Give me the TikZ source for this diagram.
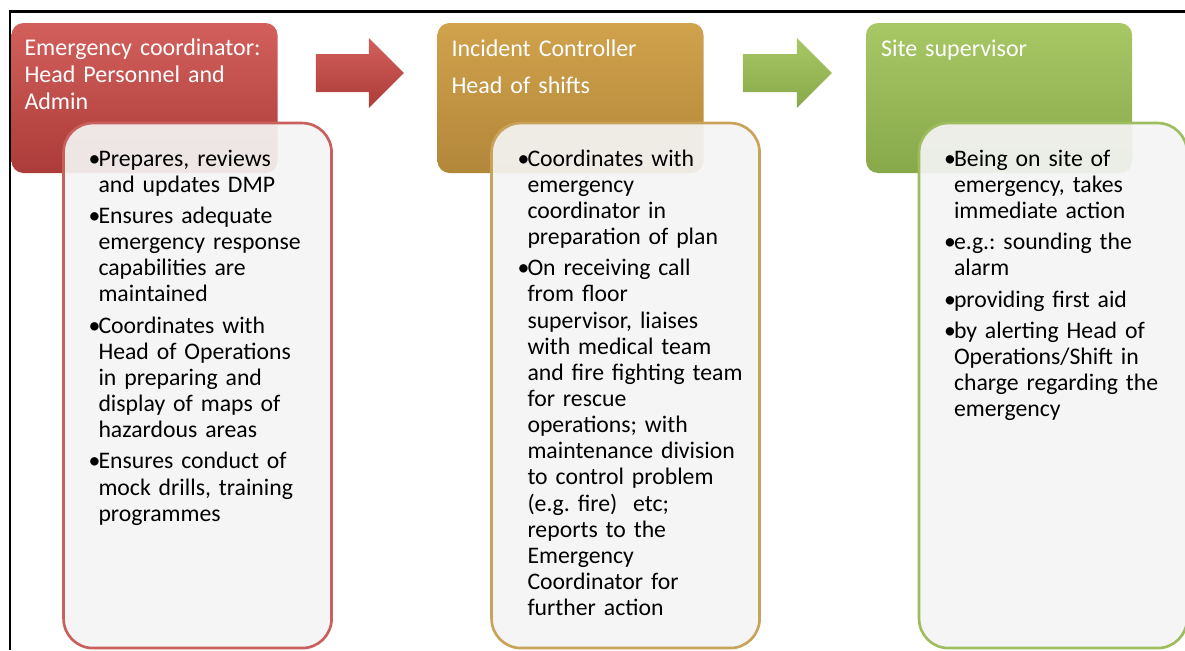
\documentclass[tikz,border=0pt]{standalone}
\usepackage{fontspec}
\setmainfont{Carlito}
\usetikzlibrary{positioning}

\definecolor{redtop}{HTML}{D25F5B}
\definecolor{redbot}{HTML}{AC3C39}
\definecolor{redline}{HTML}{C8605D}
\definecolor{goldtop}{HTML}{D0A24C}
\definecolor{goldbot}{HTML}{B3873A}
\definecolor{goldline}{HTML}{C9A35A}
\definecolor{greentop}{HTML}{A8C765}
\definecolor{greenbot}{HTML}{88A94A}
\definecolor{greenline}{HTML}{9DBD5E}
\definecolor{bodygray}{HTML}{F4F4F4}

\newcommand{\bitem}[1]{\par\hangindent=7.5pt\hangafter=1\noindent
  \makebox[7.5pt][l]{\textbullet}{\let\\\newline#1}\par}

\tikzset{
  head/.style={rounded corners=9pt, minimum width=199.5pt, minimum height=112.5pt, inner sep=0pt},
  body/.style={rounded corners=22pt, line width=2pt, fill=bodygray, fill opacity=0.92,
    minimum width=201pt, minimum height=393.75pt, inner sep=0pt, anchor=north west},
  headtext/.style={anchor=north west, inner sep=0pt, text=white, text width=195pt, align=left,
    font=\fontsize{18pt}{20.3pt}\selectfont},
  bodytext/.style={anchor=north west, inner sep=0pt, text width=190pt,
    font=\fontsize{17.8pt}{19.6pt}\selectfont,
    execute at begin node={\raggedright\frenchspacing\setlength{\parskip}{3.8pt}}}
}

\begin{document}
\begin{tikzpicture}[x=0.75pt,y=-0.75pt]
  \useasboundingbox (0,0) rectangle (1185,650);
  \draw[line width=2pt] (1185,11.5) -- (10,11.5) -- (10,650); %Draw frame

  % header boxes
  \node[head, top color=redtop, bottom color=redbot] (redhead) at (144.5,98) {};
  \node[head, top color=goldtop, bottom color=goldbot] (goldhead) at (570.5,98) {};
  \node[head, top color=greentop, bottom color=greenbot] (greenhead) at (999,98) {};

  % block arrows
  \shade[top color=redtop, bottom color=redbot] ([shift={(38,-44)}]redhead.east)
    -- ++(53,0) -- ++(0,-16) -- ++(35,35) -- ++(-35,35) -- ++(0,-16) -- ++(-53,0) -- cycle;
  \shade[top color=greentop, bottom color=greenbot] ([shift={(39,-44)}]goldhead.east)
    -- ++(54,0) -- ++(0,-16) -- ++(35,35) -- ++(-35,35) -- ++(0,-16) -- ++(-54,0) -- cycle;

  % header texts
  \node[headtext] (redtitle) at ([shift={(13,16)}]redhead.north west)
    {Emergency coordinator:\\Head Personnel and\\Admin};
  \node[headtext] (goldtitle) at ([shift={(14,17)}]goldhead.north west)
    {Incident Controller\\[7.5pt]Head of shifts};
  \node[headtext] (greentitle) at ([shift={(15,17)}]greenhead.north west)
    {Site supervisor};

  % body boxes
  \node[body, draw=redline] (redbody) at ([shift={(51,99)}]redhead.north west) {};
  \node[body, draw=goldline] (goldbody) at ([shift={(53,99)}]goldhead.north west) {};
  \node[body, draw=greenline] (greenbody) at ([shift={(52,99)}]greenhead.north west) {};

  % body texts
  \node[bodytext] (redlist) at ([shift={(26,13)}]redbody.north west) {%
    \bitem{Prepares, reviews\\and updates DMP}
    \bitem{Ensures adequate\\emergency response\\capabilities are\\maintained}
    \bitem{Coordinates with\\Head of Operations\\in preparing and\\display of maps of\\hazardous areas}
    \bitem{Ensures conduct of\\mock drills, training\\programmes}};
  \node[bodytext] (goldlist) at ([shift={(27,13)}]goldbody.north west) {%
    \bitem{Coordinates with\\emergency\\coordinator in\\preparation of plan}
    \bitem{On receiving call\\from floor\\supervisor, liaises\\with medical team\\and fire fighting team\\for rescue\\operations; with\\maintenance division\\to control problem\\(e.g. fire)\ \ etc;\\reports to the\\Emergency\\Coordinator for\\further action}};
  \node[bodytext] (greenlist) at ([shift={(26,13)}]greenbody.north west) {%
    \bitem{Being on site of\\emergency, takes\\immediate action}
    \bitem{e.g.: sounding the\\alarm}
    \bitem{providing first aid}
    \bitem{by alerting Head of\\Operations/Shift in\\charge regarding the\\emergency}};
\end{tikzpicture}
\end{document}
